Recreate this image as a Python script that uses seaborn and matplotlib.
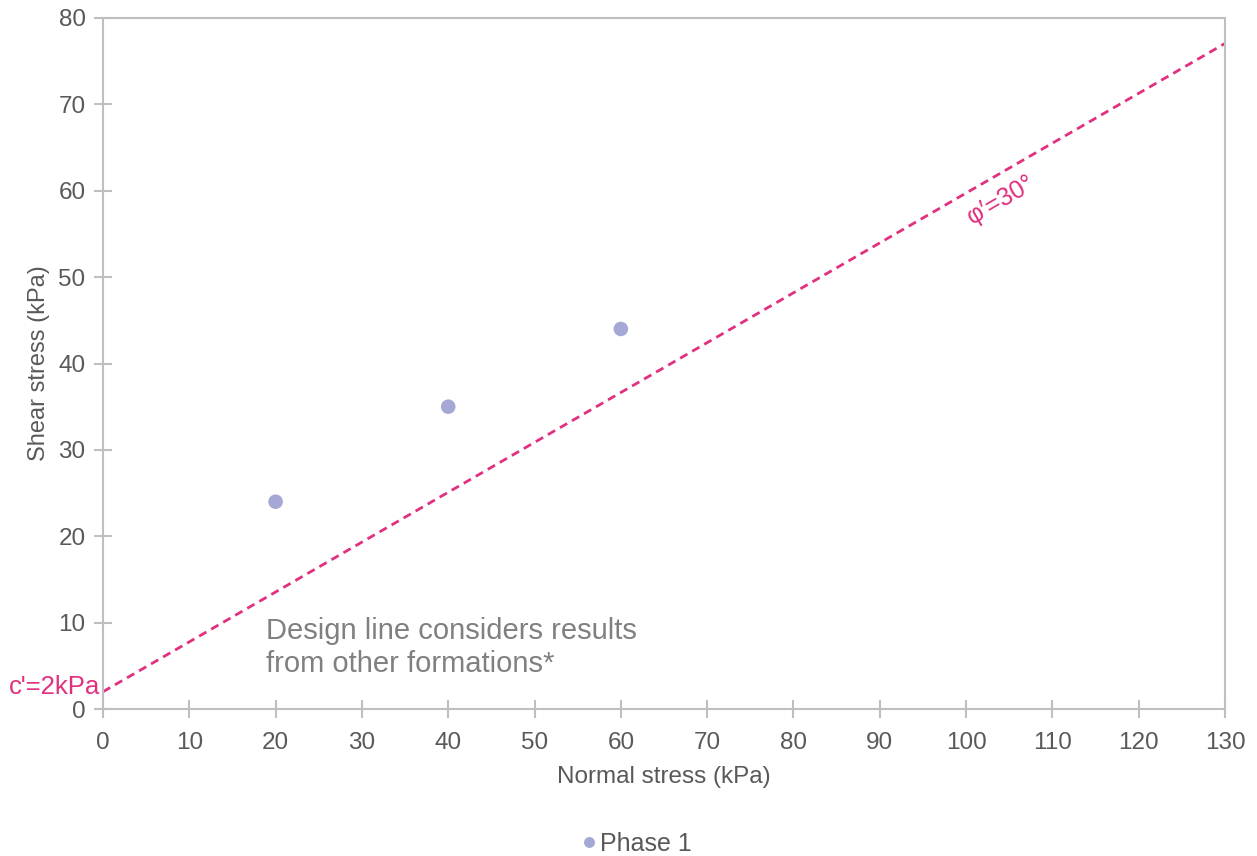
import numpy as np
import pandas as pd
import matplotlib
matplotlib.use("Agg")
import matplotlib.pyplot as plt
import seaborn as sns

sns.set_theme(style="white")
plt.rcParams["font.family"] = ["Liberation Sans", "DejaVu Sans"]

# data
normal_stress = [20, 40, 60]
shear_stress = [24, 35, 44]
series_name = "Phase 1"
cohesion = 2.0       # c' (kPa)
phi_deg = 30.0       # friction angle
line_x = [0, 130]
x_ticks = list(range(0, 131, 10))
y_ticks = list(range(0, 81, 10))

pink = "#E0307F"
dot = "#A5A8D4"
grey_txt = "#595959"
grey_ax = "#BFBFBF"

df = pd.DataFrame({"Normal stress (kPa)": normal_stress,
                   "Shear stress (kPa)": shear_stress,
                   "series": series_name})

fig = plt.figure(figsize=(12.57, 8.56), dpi=100)
ax = fig.add_axes([0.0819, 0.1717, 0.8927, 0.8073])

lx = np.array(line_x, dtype=float)
ly = cohesion + np.tan(np.radians(phi_deg)) * lx
ax.plot(lx, ly, color=pink, linestyle=(0, (3, 2)), linewidth=2, zorder=2)

sns.scatterplot(data=df, x="Normal stress (kPa)", y="Shear stress (kPa)",
                hue="series", palette=[dot], s=110, edgecolor="none",
                ax=ax, zorder=3)

ax.set_xlim(0, 130)
ax.set_ylim(0, 80)
ax.set_xticks(x_ticks)
ax.set_yticks(y_ticks)
ax.tick_params(axis="both", bottom=True, left=True, direction="inout",
               length=13, width=1.5, color=grey_ax, labelcolor=grey_txt,
               labelsize=17.5)
ax.tick_params(axis="x", pad=10)
ax.tick_params(axis="y", pad=6)
for sp in ax.spines.values():
    sp.set_color(grey_ax)
    sp.set_linewidth(1.5)
ax.set_xlabel("Normal stress (kPa)", color=grey_txt, fontsize=17.5, labelpad=9)
ax.set_ylabel("Shear stress (kPa)", color=grey_txt, fontsize=17, labelpad=6)

ax.text(18.9, 10.6, "Design line considers results\nfrom other formations*",
        color="#808080", fontsize=21, va="top", ha="left", linespacing=1.22)
ax.annotate("c'=2kPa", xy=(0, cohesion), xytext=(-2, -5), textcoords="offset points",
            color=pink, fontsize=18.5, ha="right", va="bottom", annotation_clip=False)
ax.text(104, 58.9, "\u03c6\u2032=30\u00b0", color=pink, fontsize=18,
        rotation=phi_deg, rotation_mode="anchor", ha="center", va="center")

ax.legend(loc="center", bbox_to_anchor=(0.468, -0.195), frameon=False,
          fontsize=18, labelcolor=grey_txt, handletextpad=-0.55, markerscale=0.75)

fig.savefig("out.png", dpi=100, facecolor="white")
